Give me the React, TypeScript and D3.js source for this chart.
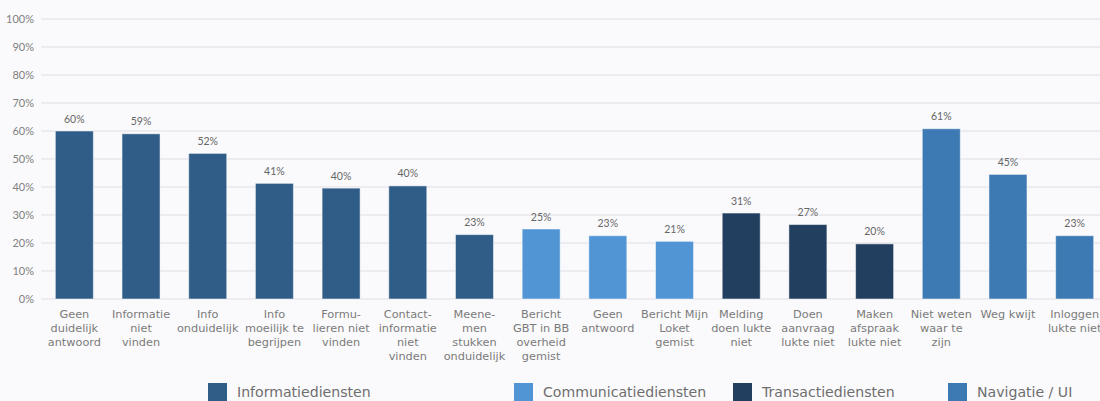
import React from "react";
import * as d3 from "d3";

const categories: string[][] = [
  ["Geen", "duidelijk", "antwoord"],
  ["Informatie", "niet", "vinden"],
  ["Info", "onduidelijk"],
  ["Info", "moeilijk te", "begrijpen"],
  ["Formu-", "lieren niet", "vinden"],
  ["Contact-", "informatie", "niet", "vinden"],
  ["Meene-", "men", "stukken", "onduidelijk"],
  ["Bericht", "GBT in BB", "overheid", "gemist"],
  ["Geen", "antwoord"],
  ["Bericht Mijn", "Loket", "gemist"],
  ["Melding", "doen lukte", "niet"],
  ["Doen", "aanvraag", "lukte niet"],
  ["Maken", "afspraak", "lukte niet"],
  ["Niet weten", "waar te", "zijn"],
  ["Weg kwijt"],
  ["Inloggen", "lukte niet"],
];
const values: number[] = [60, 59, 52, 41.3, 39.6, 40.4, 23, 25, 22.6, 20.6, 30.7, 26.6, 19.7, 60.8, 44.5, 22.6];
const labels: string[] = ["60%", "59%", "52%", "41%", "40%", "40%", "23%", "25%", "23%", "21%", "31%", "27%", "20%", "61%", "45%", "23%"];
const groupOf: number[] = [0, 0, 0, 0, 0, 0, 0, 1, 1, 1, 2, 2, 2, 3, 3, 3];
const groups: string[] = ["Informatiediensten", "Communicatiediensten", "Transactiediensten", "Navigatie / UI"];
const groupColors: string[] = ["#2f5d88", "#5195d5", "#223f5f", "#3d79b3"];
const yTicks: number[] = [0, 10, 20, 30, 40, 50, 60, 70, 80, 90, 100];
const legendX: number[] = [208, 514, 733, 948];

const W = 1100;
const H = 401;
const NUMFONT = "Lato, 'Open Sans', sans-serif";
const TXTFONT = "'DejaVu Sans', sans-serif";

export default function App() {
  const ids = categories.map((_, i) => String(i));
  const x = d3.scaleBand<string>().domain(ids).range([41, 1108]).paddingInner(0.43).paddingOuter(0.215);
  const y = d3.scaleLinear().domain([0, 100]).range([299, 19]);

  return (
    <svg width={W} height={H} style={{ position: "absolute", left: 0, top: 0, background: "#fafafc" }} fontFamily={NUMFONT}>
      <rect x={0} y={0} width={W} height={H} fill="#fafafc" />
      {yTicks.map((t) => (
        <g key={t}>
          <line x1={41} x2={W} y1={y(t)} y2={y(t)} stroke="#dfdfe5" strokeWidth={1} />
          <text x={34} y={y(t)} dy="0.36em" textAnchor="end" fontSize={11} fill="#808080">
            {t}%
          </text>
        </g>
      ))}
      {values.map((v, i) => {
        const bx = x(String(i))!;
        const bw = x.bandwidth();
        return (
          <g key={i}>
            <rect x={bx} y={y(v)} width={bw} height={y(0) - y(v)} fill={groupColors[groupOf[i]]} stroke="#ffffff" strokeOpacity={0.5} strokeWidth={1} />
            <text x={bx + bw / 2} y={y(v) - 8.5} textAnchor="middle" fontSize={10.5} fill="#666666">
              {labels[i]}
            </text>
            <text x={bx + bw / 2} y={318} textAnchor="middle" fontSize={11.3} fill="#7a7a7a" fontFamily={TXTFONT}>
              {categories[i].map((line, k) => (
                <tspan key={k} x={bx + bw / 2} y={318 + k * 14}>
                  {line}
                </tspan>
              ))}
            </text>
          </g>
        );
      })}
      {groups.map((g, i) => (
        <g key={g}>
          <rect x={legendX[i]} y={383} width={19} height={19} fill={groupColors[i]} />
          <text x={legendX[i] + 29} y={397} fontSize={14.1} fill="#6e6e6e" fontFamily={TXTFONT}>
            {g}
          </text>
        </g>
      ))}
    </svg>
  );
}
